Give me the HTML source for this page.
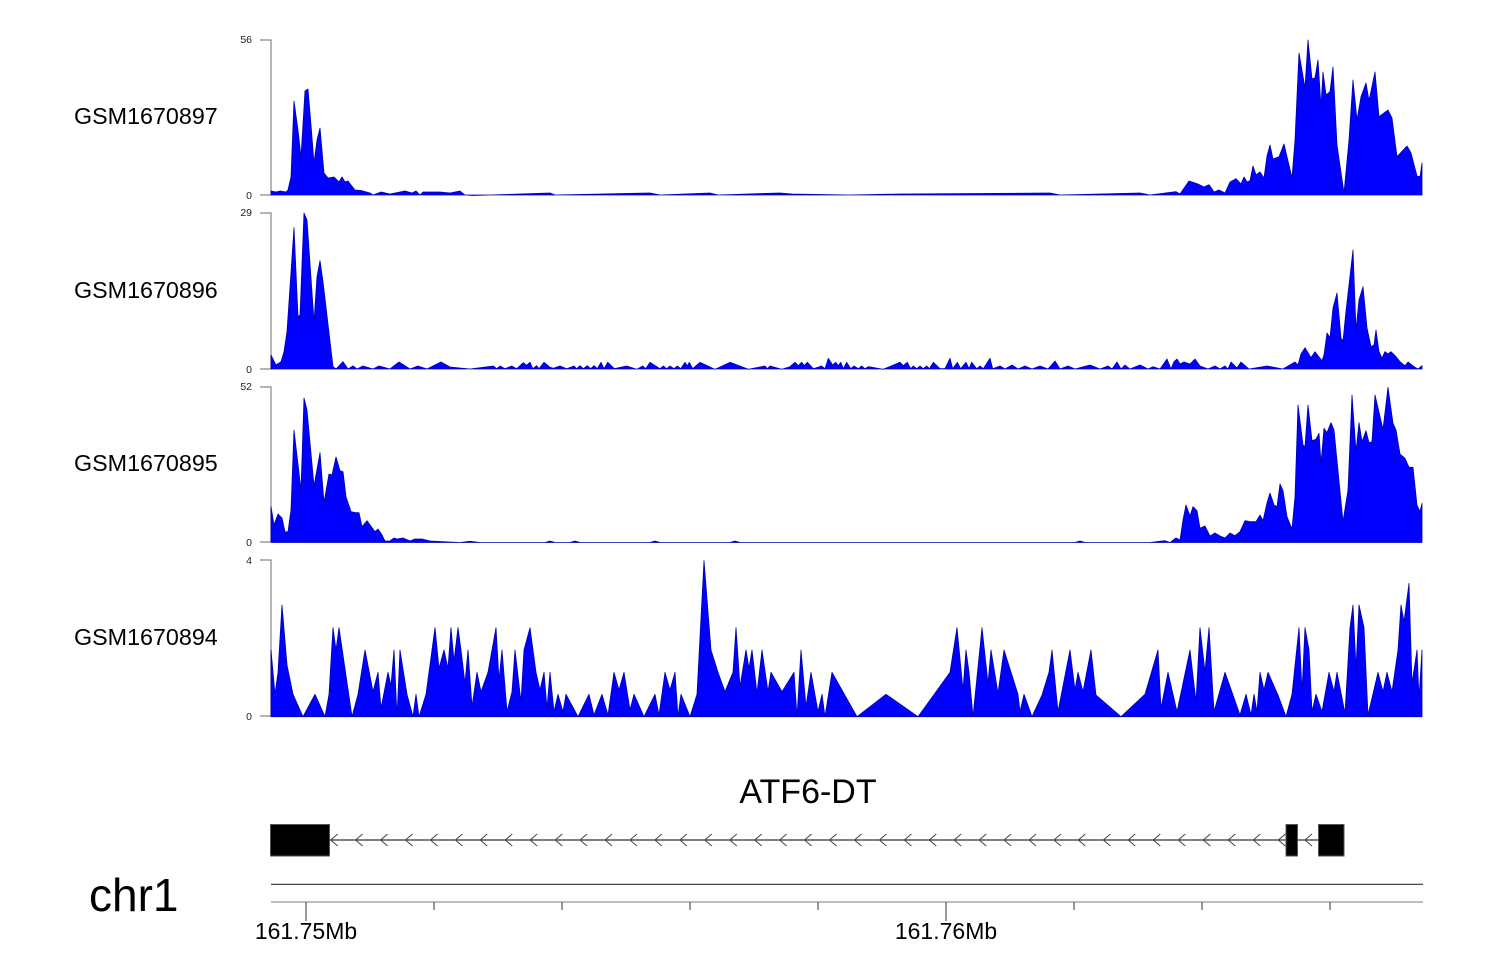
<!DOCTYPE html>
<html><head><meta charset="utf-8"><style>
html,body{margin:0;padding:0;background:#fff;}
svg{display:block;font-family:"Liberation Sans",sans-serif;}
</style></head><body>
<svg width="1500" height="980" viewBox="0 0 1500 980" xmlns="http://www.w3.org/2000/svg">
<rect width="1500" height="980" fill="#fff"/>
<g font-size="23.3" fill="#000">
<text x="74" y="124">GSM1670897</text>
<text x="74" y="298">GSM1670896</text>
<text x="74" y="471">GSM1670895</text>
<text x="74" y="645">GSM1670894</text>
</g>
<g font-size="10.5" fill="#222" text-anchor="end">
<text x="252" y="43">56</text><text x="252" y="199">0</text>
<text x="252" y="216">29</text><text x="252" y="373">0</text>
<text x="252" y="390">52</text><text x="252" y="546">0</text>
<text x="252" y="564">4</text><text x="252" y="720">0</text>
</g>
<g stroke="#888" stroke-width="1.2" fill="none">
<path d="M260,40H271V195H260"/>
<path d="M260,213H271V369H260"/>
<path d="M260,387H271V542H260"/>
<path d="M260,560H271V716H260"/>
</g>
<g fill="#0000ff" stroke="#0000b0" stroke-width="0.8" stroke-linejoin="round">
<polygon points="271,195 271,191 276,192 280,191 286,192 288,190 291,177 294,101 298,130 301,157 305,91 308,89 311,125 314,163 317,140 320,128 324,173 328,178 334,177 339,182 342,177 345,182 348,181 351,185 355,190 362,190.7 370,193 373,195 381,192 390,194 405,191 412,193 416,191 420,195 423,192 440,192 450,193 460,191 465,195 473,195.5 490,195 550,193 555,195 650,193 660,195 710,193 718,195 780,193 792,194 850,195 900,194 1050,193 1060,195 1140,193 1150,195 1176,191.7 1180,194 1189,181 1198,184 1204,187 1209,184.7 1214,192 1219,190 1225,193 1230,182 1236,178.7 1241,184 1244,177 1247,182 1250,180.7 1253,166 1256,175 1260,172 1264,178 1267,156 1270,145 1273,159 1279,156.7 1284,144 1292,178 1295,140 1299,53 1305,88 1308,40 1312,79 1315,77.7 1318,60 1321,106.7 1323,72 1326,95 1330,91.7 1333,67 1337,145 1344,193 1349,140 1353,80 1357,120 1361,96.7 1366,83 1369,100.7 1375,72 1379,116.7 1388,110 1392,118 1397,156.7 1407,146 1411,153 1417,176 1420,176.7 1422,163 1422,195"/>
<polygon points="271,369 271,355 276,365 281,361.7 284,351.7 287,331.7 294,227.7 298,316.7 300,315 304,213 307,220 314,321.7 317,276.7 320,260.7 323,281.7 333,366.7 336,369 343,361.7 348,369 353,366 357,369 363,366 373,369 379,366 390,369 399,362 410,369 418,366 427,369 441,362 450,367 470,369 493.3,366 496.7,368.7 500,366 505,368.7 511.7,366 516.7,368.7 523.3,362.7 526.7,365.3 530,362.3 532.7,368.7 536.7,365.7 539,368.7 544,362.3 550,367.3 553.3,368.3 560,366 566.7,368.7 574,366 576.7,368.7 580,365.7 583.3,368.7 587.3,365.7 590.7,368.7 594,365.7 597.3,368.7 601,362.3 604,368.7 607.7,362.3 614.3,368.7 626.7,366 636.7,369.3 642.7,366 645.7,368.7 650,362.3 660,368.7 663.3,366 666.7,368.7 670,366 674,368.7 677.3,366 680.7,368.7 685,362.3 687.3,366 689.3,362.3 692.7,368.7 700,362.3 715,369.3 730,362.3 748.3,369.3 765,366 767.3,368.7 770,366 781.7,369.3 790,366.7 795,362.3 798.3,365.7 801.7,362.3 804.3,365.7 807.3,362.3 813.3,368.7 821.7,366 825,368.7 828.3,358.3 832.7,365 835.7,362.3 838.3,365.7 840.7,362.3 843.3,368.7 846.7,362.3 850.7,368.7 854,366 858.3,368.7 861.7,366 865,368.7 868.3,366.7 883.3,369.3 900,362.3 903.3,365.7 907.3,362.3 910.7,368.7 913.3,366 916.7,368.7 920,366 923.3,368.7 926.7,366 929.3,368.7 933.3,362.3 940,368.7 945,368.7 950,358.3 952.7,368.7 957.3,362.3 960.7,368.7 966,362.3 969,368.7 971.7,362.3 976.7,368.7 980,366 983.3,368.7 990,358.3 992.7,368.7 1000,366 1005,369 1012,365 1018,369 1025,366 1032,369 1040,366 1048,369 1055,361 1060,369 1068,366 1075,369 1090,365 1100,369 1108,366 1112,369 1117,362 1121,369 1125,365 1130,369 1140,365 1148,369 1153,366.7 1160,369 1167,359 1171,369 1174,361.7 1177,359 1180,364 1184,362 1190,364 1195,359 1200,366 1208,369 1215,366 1220,369 1225,366 1228,369 1231,362 1237,368 1241,362 1249,369 1267,366 1283,369 1295,362 1298,365 1301,354 1305,347.7 1311,357.7 1315,351.7 1318,355.7 1322,360.7 1324,355 1327,333 1330,337.7 1333,308 1337,293 1341,338 1343,341 1346,311 1353,250 1356,330 1359,300 1363,286.7 1367,328 1371,346.7 1374,345 1376,330 1379,351.7 1382,358 1385,351.7 1388,354 1391,351.7 1396,356.7 1400,361.7 1405,365.7 1408,362 1414,366.7 1418,369 1422,365.7 1422,369"/>
<polygon points="271,542.5 271,506.7 274,525 278,514 282,518 285,532 288,531.7 291,510 294,430 301,490 304,398 307,410 314,486 320,452.7 324,502.7 329,474 332,475 336,457 340,470.7 343,471.7 346,496.7 351,511.7 355,512.7 359,512.7 362,526.7 367,520.7 375,531.7 378,529 382,535 385,541 390,541 394,538 397,539 403,538 410,541 415,539 422,539 430,541 460,542.5 470,541.3 480,542.5 545,542.5 550,541 555,542.5 570,542.5 575,541 580,542.5 650,542.5 655,541 660,542.5 730,542.5 735,541 740,542.5 1075,542.5 1080,541 1085,542.5 1150,542.5 1165,540.7 1170,542.5 1176,538 1180,540 1183,520 1186,505 1190,516 1193,506.7 1197,510.7 1200,528.3 1205,526 1210,536 1215,533 1220,536 1225,538 1230,533 1235,535.7 1240,531.7 1245,520.7 1250,521.7 1256,521.7 1260,515 1263,520.7 1267,503 1270,493 1274,505 1277,506.7 1280,484 1283,490.7 1287,516.7 1292,529 1295,496.7 1298,405 1303,445 1305,446.7 1308,405 1312,440.7 1316,439.3 1319,433.3 1321,463.3 1324,428.3 1327,432.7 1331,422.7 1334,430 1343,521.7 1348,490 1352,395 1356,451.7 1359,422.7 1362,441.7 1366,430.7 1369,442.7 1372,441.7 1375,395 1383,429.3 1388,387.3 1393,423.3 1396,430 1400,454 1405,458.3 1409,467.3 1413,467.3 1417,505 1420,511.7 1422,503.3 1422,542.5"/>
<polygon points="271,716.7 271,650 275,694.3 278,672.3 282,605 287,665 293,694.3 303,716.7 315,694.3 325,716.7 329,694.3 333,627.7 336,650 339,627.7 352,716.7 358,694.3 365,650 373,691.7 378,672.3 381,708.3 388,672.3 391,685.7 394,650 397,716.7 400,650 407,694.3 413,716.7 416,694.3 419,716.7 426,694.3 435,627.7 439,668.3 444,650 448,668.3 451,627.7 454,661 458,627.7 461,650 465,683.3 468,650 472,706.7 477,672.3 481,691.7 488,672.3 496,627.7 499,680 502,650 507,711.7 512,691.7 515,650 521,701.7 524,650 530,627.7 536,672.3 540,690 544,672.3 547,708.3 550,672.3 554,711.7 558,694.3 563,711.7 566,694.3 578,716.7 589,694.3 594,715 602,694.3 608,715 614,672.3 619,690 624,672.3 630,710 634,694.3 644,716.7 655,694.3 659,715 665,672.3 670,690 675,672.3 678,716.7 681,694.3 690,716.7 697,694.3 704,560.7 711,650 718,672.3 725,691.7 733,672.3 736,627.7 740,686.7 746,650 749,668.3 752,650 757,693.3 762,650 768,691.7 771,672.3 782,691.7 794,672.3 797,716.7 801,650 806,706.7 811,672.3 818,711.7 822,694.3 825,716.7 832,672.3 857,716.7 886,694.3 918,716.7 950,672.3 957,627.7 963,690 966,650 969,672.3 973,716.7 982,627.7 988,683.3 991,650 998,693.3 1004,650 1018,694.3 1020,711.7 1024,694.3 1032,716.7 1042,695 1049,672.3 1052,650 1058,711.7 1070,650 1075,690 1078,672.3 1083,691.7 1091,650 1096,695 1121,716.7 1145,694.3 1158,650 1161,708.3 1168,672.3 1177,711.7 1190,650 1196,701.7 1200,627.7 1205,671.7 1209,627.7 1214,711.7 1225,672.3 1240,715 1246,694.3 1251,715 1254,694.3 1257,711.7 1260,672.3 1264,690 1268,672.3 1278,695 1286,716.7 1292,694.3 1299,627.7 1302,691.7 1305,627.7 1309,650 1312,711.7 1316,694.3 1322,711.7 1329,672.3 1334,691.7 1337,672.3 1345,713.3 1350,627.7 1353,605 1356,668.3 1359,605 1364,627.7 1368,715 1378,672.3 1383,691.7 1387,672.3 1392,691.7 1398,650 1401,605 1404,621.7 1409,583.3 1412,683.3 1417,650 1419,698.3 1422,650 1422,716.7"/>
</g>
<text x="808" y="803" font-size="34" text-anchor="middle" fill="#000">ATF6-DT</text>
<line x1="329" y1="840" x2="1318" y2="840" stroke="#333" stroke-width="1.2"/>
<g stroke="#444" stroke-width="1" fill="none">
<path d="M337.7,834L330.7,840L337.7,846 M362.6,834L355.6,840L362.6,846 M387.6,834L380.6,840L387.6,846 M412.5,834L405.5,840L412.5,846 M437.5,834L430.5,840L437.5,846 M462.4,834L455.4,840L462.4,846 M487.3,834L480.3,840L487.3,846 M512.3,834L505.3,840L512.3,846 M537.2,834L530.2,840L537.2,846 M562.2,834L555.2,840L562.2,846 M587.1,834L580.1,840L587.1,846 M612.1,834L605.1,840L612.1,846 M637.0,834L630.0,840L637.0,846 M661.9,834L654.9,840L661.9,846 M686.9,834L679.9,840L686.9,846 M711.8,834L704.8,840L711.8,846 M736.8,834L729.8,840L736.8,846 M761.7,834L754.7,840L761.7,846 M786.6,834L779.6,840L786.6,846 M811.6,834L804.6,840L811.6,846 M836.5,834L829.5,840L836.5,846 M861.5,834L854.5,840L861.5,846 M886.4,834L879.4,840L886.4,846 M911.4,834L904.4,840L911.4,846 M936.3,834L929.3,840L936.3,846 M961.2,834L954.2,840L961.2,846 M986.2,834L979.2,840L986.2,846 M1011.1,834L1004.1,840L1011.1,846 M1036.1,834L1029.1,840L1036.1,846 M1061.0,834L1054.0,840L1061.0,846 M1085.3,834L1078.3,840L1085.3,846 M1110.3,834L1103.3,840L1110.3,846 M1135.3,834L1128.3,840L1135.3,846 M1160.3,834L1153.3,840L1160.3,846 M1185.3,834L1178.3,840L1185.3,846 M1210.3,834L1203.3,840L1210.3,846 M1235.3,834L1228.3,840L1235.3,846 M1260.3,834L1253.3,840L1260.3,846 M1285.3,834L1278.3,840L1285.3,846 M1312,834L1305,840L1312,846"/>
</g>
<rect x="270.5" y="824.5" width="59" height="31.5" fill="#000" stroke="#555" stroke-width="1"/>
<rect x="1286" y="824.5" width="11.5" height="31.5" fill="#000" stroke="#555" stroke-width="1"/>
<rect x="1318.5" y="824.5" width="25.5" height="31.5" fill="#000" stroke="#555" stroke-width="1"/>
<text x="89" y="911" font-size="46" fill="#000">chr1</text>
<line x1="271" y1="884.3" x2="1423" y2="884.3" stroke="#333" stroke-width="1.2"/>
<line x1="271" y1="902" x2="1423" y2="902" stroke="#999" stroke-width="1.2"/>
<g stroke="#555" stroke-width="1.2">
<line x1="306" y1="902" x2="306" y2="921"/>
<line x1="434" y1="902" x2="434" y2="910"/>
<line x1="562" y1="902" x2="562" y2="910"/>
<line x1="690" y1="902" x2="690" y2="910"/>
<line x1="818" y1="902" x2="818" y2="910"/>
<line x1="946" y1="902" x2="946" y2="921"/>
<line x1="1074" y1="902" x2="1074" y2="910"/>
<line x1="1202" y1="902" x2="1202" y2="910"/>
<line x1="1330" y1="902" x2="1330" y2="910"/>
</g>
<g font-size="23" fill="#000" text-anchor="middle">
<text x="306" y="939">161.75Mb</text>
<text x="946" y="939">161.76Mb</text>
</g>
</svg>
</body></html>
